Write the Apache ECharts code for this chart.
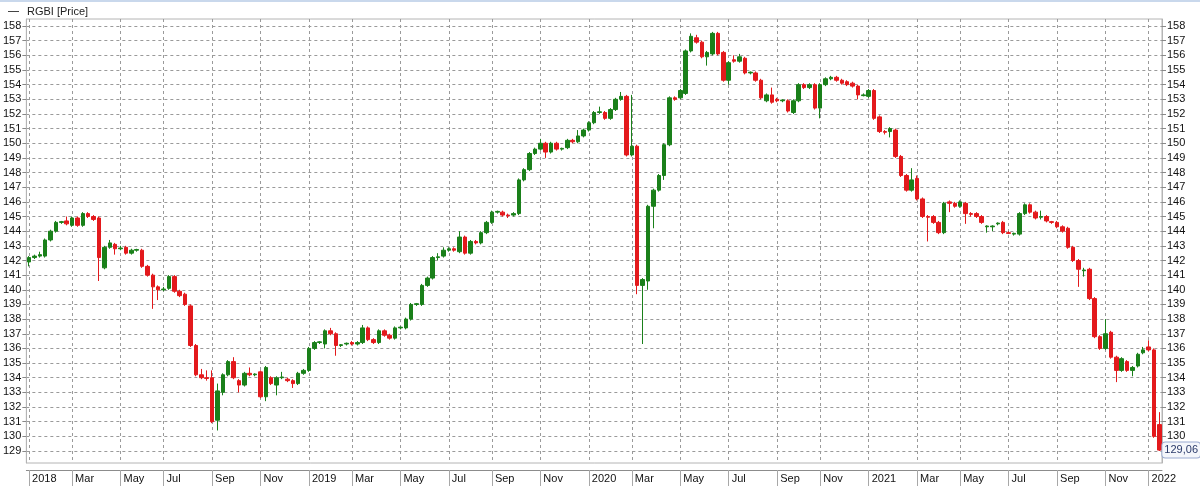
<!DOCTYPE html>
<html><head><meta charset="utf-8">
<script src="https://cdn.jsdelivr.net/npm/echarts@6/dist/echarts.min.js"></script>
<style>html,body{margin:0;padding:0;background:#fff}#c{width:1200px;height:488px}</style>
</head><body><div id="c"></div>
<script>
const weeks = [
'2018-01-01','2018-01-08','2018-01-15','2018-01-22','2018-01-29','2018-02-05','2018-02-12','2018-02-19','2018-02-26','2018-03-05','2018-03-12','2018-03-19','2018-03-26',
'2018-04-02','2018-04-09','2018-04-16','2018-04-23','2018-04-30','2018-05-07','2018-05-14','2018-05-21','2018-05-28','2018-06-04','2018-06-11','2018-06-18','2018-06-25',
'2018-07-02','2018-07-09','2018-07-16','2018-07-23','2018-07-30','2018-08-06','2018-08-13','2018-08-20','2018-08-27','2018-09-03','2018-09-10','2018-09-17','2018-09-24',
'2018-10-01','2018-10-08','2018-10-15','2018-10-22','2018-10-29','2018-11-05','2018-11-12','2018-11-19','2018-11-26','2018-12-03','2018-12-10','2018-12-17','2018-12-24','2018-12-31',
'2019-01-07','2019-01-14','2019-01-21','2019-01-28','2019-02-04','2019-02-11','2019-02-18','2019-02-25','2019-03-04','2019-03-11','2019-03-18','2019-03-25',
'2019-04-01','2019-04-08','2019-04-15','2019-04-22','2019-04-29','2019-05-06','2019-05-13','2019-05-20','2019-05-27','2019-06-03','2019-06-10','2019-06-17','2019-06-24',
'2019-07-01','2019-07-08','2019-07-15','2019-07-22','2019-07-29','2019-08-05','2019-08-12','2019-08-19','2019-08-26','2019-09-02','2019-09-09','2019-09-16','2019-09-23','2019-09-30',
'2019-10-07','2019-10-14','2019-10-21','2019-10-28','2019-11-04','2019-11-11','2019-11-18','2019-11-25','2019-12-02','2019-12-09','2019-12-16','2019-12-23','2019-12-30',
'2020-01-06','2020-01-13','2020-01-20','2020-01-27','2020-02-03','2020-02-10','2020-02-17','2020-02-24','2020-03-02','2020-03-09','2020-03-16','2020-03-23','2020-03-30',
'2020-04-06','2020-04-13','2020-04-20','2020-04-27','2020-05-04','2020-05-11','2020-05-18','2020-05-25','2020-06-01','2020-06-08','2020-06-15','2020-06-22','2020-06-29',
'2020-07-06','2020-07-13','2020-07-20','2020-07-27','2020-08-03','2020-08-10','2020-08-17','2020-08-24','2020-08-31','2020-09-07','2020-09-14','2020-09-21','2020-09-28',
'2020-10-05','2020-10-12','2020-10-19','2020-10-26','2020-11-02','2020-11-09','2020-11-16','2020-11-23','2020-11-30','2020-12-07','2020-12-14','2020-12-21','2020-12-28',
'2021-01-04','2021-01-11','2021-01-18','2021-01-25','2021-02-01','2021-02-08','2021-02-15','2021-02-22','2021-03-01','2021-03-08','2021-03-15','2021-03-22','2021-03-29',
'2021-04-05','2021-04-12','2021-04-19','2021-04-26','2021-05-03','2021-05-10','2021-05-17','2021-05-24','2021-05-31','2021-06-07','2021-06-14','2021-06-21','2021-06-28',
'2021-07-05','2021-07-12','2021-07-19','2021-07-26','2021-08-02','2021-08-09','2021-08-16','2021-08-23','2021-08-30','2021-09-06','2021-09-13','2021-09-20','2021-09-27',
'2021-10-04','2021-10-11','2021-10-18','2021-10-25','2021-11-01','2021-11-08','2021-11-15','2021-11-22','2021-11-29','2021-12-06','2021-12-13','2021-12-20','2021-12-27',
'2022-01-03','2022-01-10'
];

const open = [
141.9,142.2,142.3,142.3,143.4,144.0,144.6,144.7,144.4,144.9,
144.4,145.2,145.0,144.9,141.5,142.9,143.1,142.8,142.9,142.5,
142.7,142.7,141.6,141.0,140.2,140.0,140.1,140.9,139.9,139.7,
138.9,136.2,134.2,134.0,134.0,131.1,133.0,134.2,135.1,133.8,
133.5,134.3,134.2,134.4,132.7,134.0,133.5,134.0,133.9,133.8,
133.6,134.3,134.5,136.0,136.4,
136.3,137.2,137.0,136.2,136.3,136.4,136.3,136.4,137.4,136.6,
136.4,137.2,136.9,136.7,137.4,137.4,138.0,139.0,139.0,140.3,
140.8,142.2,142.3,142.7,
142.8,142.6,143.6,142.5,143.3,143.2,143.9,144.6,145.3,145.3,
145.1,145.1,145.2,147.5,148.2,149.3,149.6,150.0,149.4,150.0,149.6,
149.7,150.2,150.1,150.5,150.9,151.4,152.1,152.1,151.7,152.3,
153.0,153.2,149.2,149.8,140.3,140.6,145.7,146.8,147.8,149.9,
153.1,153.1,153.4,156.3,157.2,156.9,155.9,156.1,157.5,156.2,
154.3,155.7,155.6,155.8,154.8,154.8,154.3,152.9,153.3,153.0,
152.9,152.9,152.1,152.9,154.0,153.8,154.0,152.4,154.0,154.4,154.5,154.3,
154.2,154.1,153.9,153.25,153.2,153.6,151.8,150.8,150.8,150.9,
149.1,147.8,146.8,147.6,146.2,145.0,145.0,144.6,143.9,146.0,
145.9,145.7,145.9,145.2,145.2,145.0,144.3,144.3,144.5,144.6,
143.9,143.8,143.8,145.2,145.8,145.3,144.95,145.0,144.65,144.6,
144.3,144.2,142.9,142.0,141.3,141.4,139.4,136.8,136.0,137.1,
135.4,134.5,135.1,134.5,134.8,135.7,136.1,135.9,130.8
];

const close = [
142.2,142.3,142.4,143.4,144.0,144.6,144.65,144.5,144.9,144.4,
145.2,145.0,144.8,142.2,142.9,143.2,142.8,142.85,142.5,142.7,
142.75,141.6,141.0,140.2,140.0,140.05,140.9,139.9,139.6,139.0,
136.2,134.2,134.0,133.95,131.0,133.1,134.2,135.1,134.0,133.5,
134.3,134.2,134.25,132.7,134.7,133.6,134.0,134.05,133.8,133.6,
134.3,134.5,136.0,136.4,136.45,
137.2,137.0,136.2,136.25,136.35,136.3,136.4,137.4,136.6,136.4,
137.2,136.9,136.7,137.4,137.45,138.0,139.0,139.05,140.3,140.8,
142.2,142.25,142.7,142.8,
142.7,143.6,142.5,143.3,143.2,143.9,144.6,145.3,145.35,145.1,
145.05,145.2,147.5,148.2,149.3,149.6,150.0,149.4,150.0,149.6,149.65,
150.2,150.1,150.5,150.9,151.4,152.1,152.15,151.7,152.3,153.0,
153.2,149.2,149.8,140.3,140.7,145.7,146.8,147.8,149.9,153.1,
153.0,153.6,156.3,157.3,156.9,155.9,156.2,157.5,156.1,154.3,
155.5,155.6,155.9,154.8,154.85,154.3,153.1,153.3,152.8,152.9,
152.95,152.2,152.9,154.0,153.8,154.0,152.4,154.0,154.4,154.5,154.3,154.1,
154.0,153.9,153.3,153.3,153.6,151.7,150.8,150.75,151.0,149.1,
147.8,146.8,147.5,146.2,145.0,144.95,144.6,143.9,145.9,145.9,
145.7,146.0,145.2,145.15,145.0,144.6,144.35,144.35,144.55,143.9,
143.85,143.85,145.2,145.8,145.3,144.9,145.0,144.7,144.6,144.3,
144.0,142.9,142.0,141.4,141.35,139.4,136.8,136.0,137.0,135.4,
134.5,135.3,134.5,134.7,135.6,135.9,135.9,130.0,129.06
];

const low = [
141.6,142.1,142.2,142.2,143.3,143.9,144.5,144.4,144.3,144.3,
144.3,144.9,144.7,140.6,141.4,142.8,142.4,142.7,142.4,142.4,
142.6,141.5,140.9,138.7,139.3,139.9,140.0,139.8,139.5,138.9,
136.1,134.1,133.9,133.8,130.9,130.4,132.8,134.1,133.9,133.0,
133.4,134.1,134.1,132.6,132.4,133.5,132.8,133.9,133.7,133.3,
133.5,134.2,134.4,135.9,136.3,
136.0,136.9,135.5,136.1,136.2,136.2,136.2,136.3,136.5,136.3,
136.3,136.8,136.6,136.6,137.3,137.3,137.9,138.9,138.9,140.2,
140.7,142.0,142.2,142.6,
142.6,142.5,142.4,142.4,143.1,143.1,143.8,144.5,145.2,145.0,
144.9,145.0,145.1,147.4,148.1,149.2,149.5,149.0,149.3,149.5,149.5,
149.6,150.0,150.0,150.4,150.8,151.3,152.0,151.6,151.6,152.2,
152.9,149.1,149.1,139.7,136.3,140.0,144.2,146.7,147.5,149.8,
152.9,153.0,153.3,156.2,156.8,155.8,155.3,156.0,156.0,154.2,
154.0,155.5,155.5,154.7,154.7,154.2,153.0,152.8,152.7,152.8,
152.8,152.1,152.0,152.8,153.7,153.7,152.3,151.7,153.9,154.3,154.2,154.0,
153.9,153.8,153.0,153.2,153.1,151.6,150.7,150.6,150.4,149.0,
147.7,146.7,146.7,146.1,144.9,143.3,144.5,143.8,143.8,145.3,
145.6,145.6,144.5,145.0,144.9,144.5,143.9,144.0,144.4,143.8,
143.8,143.7,143.7,145.1,145.2,144.8,144.8,144.6,144.5,144.2,
143.9,142.8,141.9,140.2,140.9,139.3,136.7,135.9,135.9,135.3,
133.7,134.4,134.4,134.1,134.7,135.6,135.8,129.9,129.0
];

const high = [
142.3,142.4,142.6,143.5,144.1,144.7,144.7,145.0,145.0,145.0,
145.3,145.3,145.1,145.0,143.0,143.4,143.2,143.0,143.0,142.8,
142.8,142.8,141.7,141.1,140.3,140.2,141.0,141.0,140.0,139.8,
139.0,136.3,134.6,134.5,134.5,133.6,134.3,135.2,135.4,133.9,
134.4,134.7,134.3,134.5,134.8,134.1,134.1,134.4,134.0,133.9,
134.4,134.6,136.1,136.5,136.5,
137.3,137.4,137.1,136.3,136.4,136.5,136.5,137.6,137.5,136.7,
137.3,137.3,137.0,137.5,137.5,138.1,139.1,139.1,140.4,140.9,
142.3,142.5,142.9,142.9,
142.9,144.0,143.7,143.4,143.4,144.0,144.7,145.4,145.4,145.4,
145.2,145.3,147.6,148.3,149.4,149.7,150.3,150.1,150.1,150.1,149.7,
150.3,150.3,150.9,151.0,151.5,152.2,152.5,152.2,152.4,153.1,
153.5,153.3,153.3,149.9,140.8,145.8,146.9,147.9,150.0,153.2,
153.2,153.7,156.4,157.5,157.4,157.0,156.3,157.6,157.6,156.3,
155.6,156.0,156.1,155.9,154.9,154.9,154.4,153.4,153.8,153.1,
153.0,153.0,153.0,154.1,154.1,154.1,154.1,154.1,154.5,154.6,154.6,154.4,
154.3,154.2,154.0,153.4,153.7,153.7,151.9,150.9,151.1,151.0,
149.2,147.9,148.3,147.8,146.3,145.1,145.1,144.7,146.0,146.1,
146.0,146.1,146.0,145.3,145.3,145.1,144.4,144.4,144.6,144.7,
144.0,143.9,145.3,145.9,145.9,145.4,145.4,145.1,144.7,144.7,
144.4,144.3,143.0,142.1,141.5,141.5,139.5,136.9,138.0,137.2,
135.5,135.4,135.2,134.8,135.7,136.1,136.55,136.0,131.65
];

const priceTicks = [129,130,131,132,133,134,135,136,137,138,139,140,141,142,143,144,145,146,147,148,149,150,151,152,153,154,155,156,157,158];
const monthNames = ['Jan','Feb','Mar','Apr','May','Jun','Jul','Aug','Sep','Oct','Nov','Dec'];
const seriesName = 'RGBI [Price]';

// which weeks contain the 1st day of Jan/Mar/May/Jul/Sep/Nov -> axis label text
const markIdx = {};
weeks.forEach(function (w, i) {
  const d = new Date(w + 'T00:00:00Z');
  for (let k = 0; k < 7; k++) {
    const x = new Date(d.getTime() + k * 86400000);
    if (x.getUTCDate() === 1 && x.getUTCMonth() % 2 === 0) {
      markIdx[i] = x.getUTCMonth() === 0 ? String(x.getUTCFullYear()) : monthNames[x.getUTCMonth()];
    }
  }
});
const isMark = function (i) { return markIdx[i] !== undefined; };

const candles = weeks.map(function (w, i) { return [open[i], close[i], low[i], high[i]]; });
const lastClose = close[close.length - 1];

const FONT = 'Liberation Sans';
const gridDash = { color: '#9a9a9a', type: [3, 3], width: 1 };

const chart = echarts.init(document.getElementById('c'), null, { renderer: 'canvas' });
chart.setOption({
  animation: false,
  backgroundColor: '#fff',
  textStyle: { fontFamily: FONT },
  graphic: [{ type: 'rect', left: 0, top: 0, shape: { width: 1200, height: 2 }, style: { fill: '#c9d8ec' }, silent: true }],
  legend: {
    left: 3, top: 1, itemWidth: 11, itemHeight: 1, itemGap: 8,
    textStyle: { fontSize: 11, color: '#222', fontFamily: FONT, padding: [0, 0, 0, 3] },
    data: [{ name: seriesName, icon: 'rect', itemStyle: { color: '#444', borderWidth: 0 } }]
  },
  grid: { left: 25, right: 38, top: 19, bottom: 25, show: true, borderColor: '#b4b4b4', borderWidth: 1, backgroundColor: '#fff' },
  xAxis: [{
    type: 'category', data: weeks, boundaryGap: true,
    axisLine: { show: false }, axisTick: { show: false }, axisLabel: { show: false },
    splitLine: { show: true, interval: isMark, alignWithLabel: true, lineStyle: gridDash }
  }, {
    type: 'category', data: weeks, boundaryGap: true, position: 'bottom', offset: 7,
    axisLine: { show: true, lineStyle: { color: '#8c8c8c', width: 1 } },
    axisTick: { show: true, interval: isMark, alignWithLabel: true, length: 16, lineStyle: { color: '#a8a8a8' } },
    axisLabel: {
      show: true, interval: isMark, align: 'left', margin: 3, padding: [0, 0, 0, 3],
      fontSize: 11, color: '#111', fontFamily: FONT,
      formatter: function (v, i) { return markIdx[i] || ''; }
    },
    splitLine: { show: false }
  }],
  yAxis: [{
    type: 'value', position: 'left', min: 128.18, max: 158.48, scale: true,
    axisLine: { show: true, lineStyle: { color: '#b4b4b4' } },
    axisTick: { show: true, length: 4, customValues: priceTicks, lineStyle: { color: '#888' } },
    axisLabel: { show: true, customValues: priceTicks, margin: 5, fontSize: 11, color: '#111', fontFamily: FONT },
    splitLine: { show: true, lineStyle: gridDash }
  }, {
    type: 'value', position: 'right', min: 128.18, max: 158.48, scale: true,
    axisLine: { show: true, lineStyle: { color: '#b4b4b4' } },
    axisTick: { show: true, length: 4, customValues: priceTicks, lineStyle: { color: '#888' } },
    axisLabel: { show: true, customValues: priceTicks, margin: 5, fontSize: 11, color: '#111', fontFamily: FONT },
    splitLine: { show: false },
    axisPointer: {
      show: true, type: 'line', value: lastClose, status: 'show', snap: false, triggerTooltip: false,
      lineStyle: { opacity: 0 }, handle: { show: false },
      label: {
        show: true, formatter: function (p) { return Number(p.value).toFixed(2).replace('.', ','); },
        backgroundColor: '#f4f6fb', borderColor: '#9aaad0', borderWidth: 1, color: '#2a3a6a',
        padding: [2, 2, 2, 2], fontSize: 11, fontFamily: FONT, margin: 2
      }
    }
  }],
  series: [{
    name: seriesName, type: 'candlestick', xAxisIndex: 0, yAxisIndex: 0,
    data: candles, barWidth: 4,
    itemStyle: { color: '#1a801a', color0: '#e3191c', borderColor: '#1a801a', borderColor0: '#e3191c', borderWidth: 1 }
  }]
});
</script>
</body></html>
